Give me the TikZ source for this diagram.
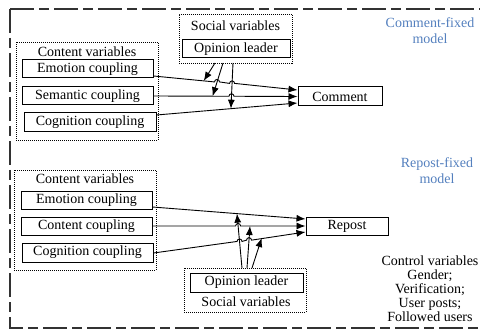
\documentclass[tikz,border=0pt]{standalone}
\usepackage{fontspec}
\setmainfont{Liberation Serif}
\newfontfamily\tnr{Liberation Serif}
\usetikzlibrary{arrows.meta,calc}
\definecolor{modelblue}{RGB}{84,128,190}
\definecolor{framegray}{RGB}{50,50,50}
\tikzset{
  varbox/.style={draw,line width=1pt,inner sep=0pt,minimum width=#1,minimum height=18pt},
  dotbox/.style={draw,dash pattern=on 1pt off 1pt,line width=0.9pt,inner sep=0pt},
  lbl/.style={inner sep=0pt},
  arr/.style={line width=0.9pt,-{Latex[length=9pt,width=7pt]}},
  blue text/.style={text=modelblue,align=center,inner sep=0pt,font=\tnr\fontsize{14}{16}\selectfont},
}
\begin{document}
\begin{tikzpicture}[x=1pt,y=-1pt,font=\tnr\fontsize{14}{14}\selectfont]
\useasboundingbox (0,0) rectangle (480,329);
% outer frame
\draw[framegray,line width=1.4pt,dash pattern=on 24pt off 5pt on 10pt off 5pt] (10,9) -- (495,9);
\draw[framegray,line width=1.4pt,dash pattern=on 24pt off 5pt on 10pt off 5pt] (10,9) -- (10,328) -- (495,328);

%% ---------------- top panel ----------------
\node[dotbox,minimum width=142pt,minimum height=98pt] (cv1) at (87,91) {};
\node[lbl] (cv1t) at (87,52) {Content variables};
\node[varbox=131pt] (emo1) at (87.5,69) {Emotion coupling};
\node[varbox=131pt] (sem1) at (87.5,96) {Semantic coupling};
\node[varbox=132pt,minimum height=19pt] (cog1) at (90,122.5) {Cognition coupling};

\node[dotbox,minimum width=113pt,minimum height=49pt] (sv1) at (235.5,38.5) {};
\node[lbl] (sv1t) at (235.5,26) {Social variables};
\node[varbox=108pt] (ol1) at (236,49) {Opinion leader};

\node[varbox=84pt,minimum height=19pt] (com) at (340,96.5) {Comment};
\node[blue text] (cfm) at (430,31) {Comment-fixed\\model};

% line end points
\coordinate (eA) at ($(emo1.east)+(0,7)$);
\coordinate (eB) at ($(com.west)+(0,-6.5)$);
\coordinate (sA) at (sem1.east);
\coordinate (sB) at (com.west);
\coordinate (cA) at ($(cog1.east)+(0,-7.5)$);
\coordinate (cB) at ($(com.west)+(0,6.5)$);
% opinion leader arrows
\coordinate (o1S) at (215,63);  \coordinate (o1D) at (203,82);
\coordinate (o2S) at (223,63);  \coordinate (o2D) at (213,95);
\coordinate (o3S) at (233,63);  \coordinate (o3D) at (231,107);
\coordinate (o1T) at (intersection of o1S--o1D and eA--eB);
\coordinate (o2T) at (intersection of o2S--o2D and sA--sB);
\coordinate (o3T) at (intersection of o3S--o3D and cA--cB);
\coordinate (h1) at (intersection of o2S--o2D and eA--eB);
\coordinate (h2) at (intersection of o3S--o3D and eA--eB);
\coordinate (h3) at (intersection of o3S--o3D and sA--sB);

\draw[arr] (eA) -- ($(h1)!2.5pt!(eA)$) arc[start angle=180,end angle=0,radius=2.5pt]
  -- ($(h2)!2.5pt!(eA)$) arc[start angle=180,end angle=0,radius=2.5pt] -- (eB);
\draw[arr] (sA) -- ($(h3)!2.5pt!(sA)$) arc[start angle=180,end angle=0,radius=2.5pt] -- (sB);
\draw[arr] (cA) -- (cB);
\draw[arr] (o1S) -- (o1T);
\draw[arr] (o2S) -- (o2T);
\draw[arr] (o3S) -- (o3T);

%% ---------------- bottom panel ----------------
\node[dotbox,minimum width=142pt,minimum height=100pt] (cv2) at (85,220) {};
\node[lbl] (cv2t) at (85,179) {Content variables};
\node[varbox=131pt] (emo2) at (86.5,200.5) {Emotion coupling};
\node[varbox=131pt] (con2) at (86.5,226) {Content coupling};
\node[varbox=131pt,minimum height=19pt] (cog2) at (87.5,252.5) {Cognition coupling};

\node[dotbox,minimum width=122pt,minimum height=44pt] (sv2) at (245,290) {};
\node[varbox=113pt,minimum height=19pt] (ol2) at (246.5,282.5) {Opinion leader};
\node[lbl] (sv2t) at (246,302) {Social variables};

\node[varbox=82pt] (rep) at (347,226) {Repost};
\node[blue text] (rfm) at (437,171) {Repost-fixed\\model};

\node[align=center,inner sep=0pt,font=\tnr\fontsize{14}{14}\selectfont] (ctrl) at (430,289)
  {Control variables\\Gender;\\Verification;\\User posts;\\Followed users};

\coordinate (fA) at ($(emo2.east)+(0,6.5)$);
\coordinate (fB) at ($(rep.west)+(0,-7)$);
\coordinate (gA) at (con2.east);
\coordinate (gB) at (rep.west);
\coordinate (kA) at ($(cog2.east)+(0,0.5)$);
\coordinate (kB) at ($(rep.west)+(0,6)$);
\coordinate (p1S) at (242,268);  \coordinate (p1D) at (237,214);
\coordinate (p2S) at (247,268);  \coordinate (p2D) at (250,226);
\coordinate (p3S) at (252,268);  \coordinate (p3D) at (262,237);
\coordinate (p1T) at (intersection of p1S--p1D and fA--fB);
\coordinate (p2T) at (intersection of p2S--p2D and gA--gB);
\coordinate (p3T) at (intersection of p3S--p3D and kA--kB);
\coordinate (q1) at (intersection of p1S--p1D and gA--gB);
\coordinate (q2) at (intersection of p1S--p1D and kA--kB);
\coordinate (q3) at (intersection of p2S--p2D and kA--kB);

\draw[arr] (fA) -- (fB);
\draw[arr] (gA) -- ($(q1)!2.5pt!(gA)$) arc[start angle=180,end angle=0,radius=2.5pt] -- (gB);
\draw[arr] (kA) -- ($(q2)!2.5pt!(kA)$) arc[start angle=180,end angle=0,radius=2.5pt]
  -- ($(q3)!2.5pt!(kA)$) arc[start angle=180,end angle=0,radius=2.5pt] -- (kB);
\draw[arr] (p1S) -- (p1T);
\draw[arr] (p2S) -- (p2T);
\draw[arr] (p3S) -- (p3T);
\end{tikzpicture}
\end{document}
